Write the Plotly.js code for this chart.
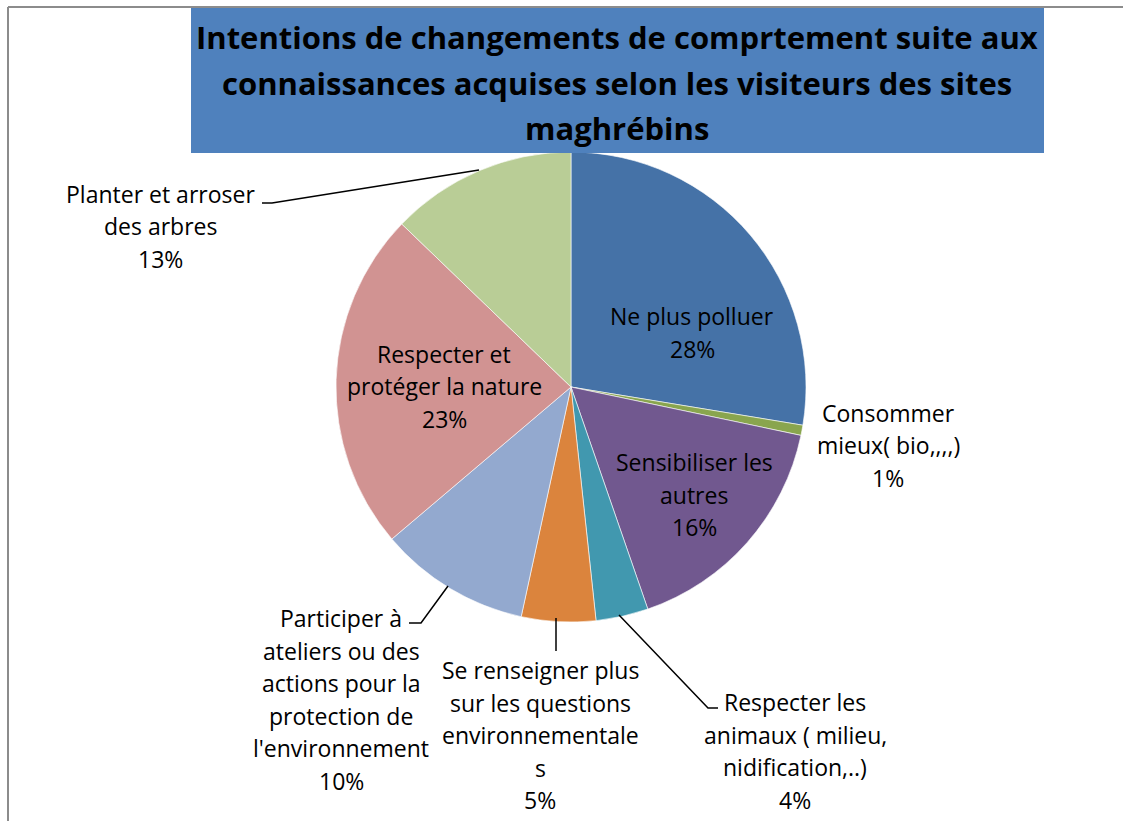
<!DOCTYPE html>
<html><head><meta charset="utf-8">
<script src="https://cdn.plot.ly/plotly-3.0.1.min.js"></script>
<style>html,body{margin:0;padding:0;background:#fff}#chart{width:1123px;height:821px}</style>
</head><body><div id="chart"></div>
<script>
// ---- data ----
const categories = [
  "Ne plus polluer",
  "Consommer mieux( bio,,,,)",
  "Sensibiliser les autres",
  "Respecter les animaux ( milieu, nidification,..)",
  "Se renseigner plus sur les questions environnementales",
  "Participer à ateliers ou des actions pour la protection de l'environnement",
  "Respecter et protéger la nature",
  "Planter et arroser des arbres"
];
const shares = [27.6, 0.7, 16.4, 3.6, 5.1, 10.4, 23.4, 12.8];
// label text as wrapped in the reference
const labelLines = [
  ["Ne plus polluer"],
  ["Consommer", "mieux( bio,,,,)"],
  ["Sensibiliser les", "autres"],
  ["Respecter les", "animaux ( milieu,", "nidification,..)"],
  ["Se renseigner plus", "sur les questions", "environnementale", "s"],
  ["Participer à", "ateliers ou des", "actions pour la", "protection de", "l'environnement"],
  ["Respecter et", "protéger la nature"],
  ["Planter et arroser", "des arbres"]
];
const titleText = "Intentions de changements de comprtement suite aux<br>connaissances acquises selon les visiteurs des sites<br>maghrébins";

// ---- style / layout ----
const colors = ["#4572A7","#89A54E","#71588F","#4198AF","#DB843D","#93A9CF","#D19392","#B9CD96"];
const W = 1123, H = 821;
const cx = 571, cy = 387, R = 235;
const px = x => x / W, py = y => 1 - y / H;
// label centres (first line centre) in pixels
const labelPos = [[692,316],[888,413],[694,462],[795,702],[540,670],[341,618],[444,354],[160,194]];
const lineH = 32.5;
const FONT = "'Open Sans', 'Liberation Sans', sans-serif";

const total = shares.reduce((a,b)=>a+b,0);
const annotations = [];
categories.forEach((c,i)=>{
  const lines = labelLines[i].concat([Math.round(shares[i]/total*100) + "%"]);
  lines.forEach((t,j)=>{
    annotations.push({
      xref:"paper", yref:"paper", x:px(labelPos[i][0]), y:py(labelPos[i][1] + j*lineH),
      xanchor:"center", yanchor:"middle", showarrow:false, text:t,
      font:{family:FONT, size:23, color:"#000"}
    });
  });
});
// title
const titleLines = titleText.split("<br>");
titleLines.forEach((t,j)=>{
  annotations.push({xref:"paper",yref:"paper",x:px(617),y:py(37+j*45.5),xanchor:"center",yanchor:"middle",
    showarrow:false,text:"<b>"+t+"</b>",font:{family:FONT,size:31,color:"#000"}});
});

const leader = (pts)=>({type:"path", xref:"paper", yref:"paper", layer:"above",
  path: pts.map((p,k)=>(k?"L":"M")+px(p[0])+","+py(p[1])).join(" "),
  line:{color:"#000", width:1.5}});

const shapes = [
  {type:"rect", xref:"paper", yref:"paper", x0:px(191), x1:px(1044), y0:py(153), y1:py(7),
   fillcolor:"#4F81BD", line:{width:0}, layer:"above"},
  {type:"line", xref:"paper", yref:"paper", x0:px(8), x1:px(8), y0:py(7), y1:0, line:{color:"#8c8c8c", width:2}},
  {type:"line", xref:"paper", yref:"paper", x0:px(8), x1:1, y0:py(7), y1:py(7), line:{color:"#8c8c8c", width:2}},
  leader([[262,203],[272,203],[479,170]]),
  leader([[409,623],[421,623],[448,586]]),
  leader([[556,618],[556,651]]),
  leader([[619,615],[708,708],[718,708]])
];

const trace = {
  type:"pie", labels:categories, values:shares, sort:false, direction:"clockwise", rotation:0,
  marker:{colors:colors, line:{color:"rgba(255,255,255,0.6)", width:1}},
  textinfo:"none", hoverinfo:"label+percent", showlegend:false,
  domain:{x:[px(cx-R), px(cx+R)], y:[py(cy+R), py(cy-R)]}
};

Plotly.newPlot("chart", [trace], {
  width:W, height:H, margin:{l:0,r:0,t:0,b:0}, paper_bgcolor:"#fff",
  showlegend:false, annotations, shapes
}, {displayModeBar:false, staticPlot:true});
</script></body></html>
